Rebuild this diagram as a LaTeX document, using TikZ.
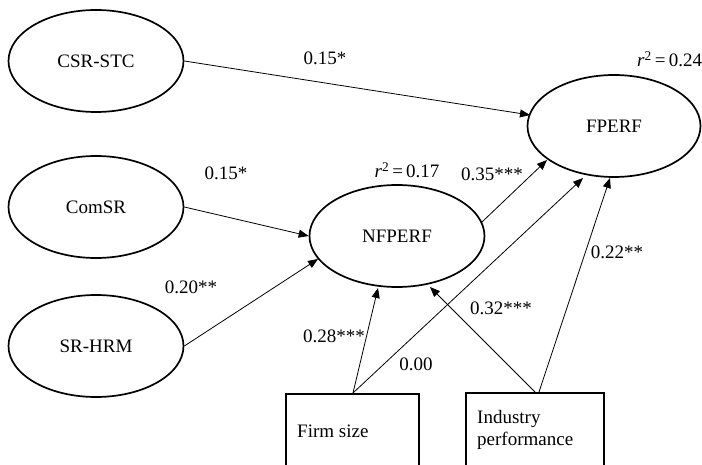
\documentclass[tikz,border=0pt]{standalone}
\usepackage{fontspec}
\setmainfont{Liberation Serif}
\usetikzlibrary{arrows.meta,calc,shapes.geometric}
\begin{document}
\begin{tikzpicture}[x=1pt,y=-1pt,
  lat/.style={draw,ellipse,line width=1.7pt,minimum width=175pt,minimum height=102pt,inner sep=0pt,font=\fontsize{19}{22}\selectfont},
  obs/.style={draw,rectangle,line width=1.6pt,minimum width=133pt,minimum height=90pt,anchor=north west,inner sep=0pt},
  lbl/.style={font=\fontsize{19}{22}\selectfont,inner sep=0pt},
  conn/.style={line width=0.8pt,-{Triangle[length=10pt,width=8pt]}}]
\useasboundingbox (0,0) rectangle (702,465);
\clip (0,0) rectangle (702,465);
\fill[white] (0,0) rectangle (702,465);
\node[lat] (csr) at (96,61) {CSR-STC};
\node[lat] (com) at (96,207) {ComSR};
\node[lat] (hrm) at (96,346) {SR-HRM};
\node[lat] (nf) at (397,236) {NFPERF};
\node[lat,minimum width=173pt] (fp) at (614,126) {FPERF};
\node[obs] (fs) at (285,393) {};
\node[obs,minimum width=138pt] (ip) at (465,392) {};
\node[lbl,anchor=west] (fst) at (297,431) {Firm size};
\node[lbl,anchor=north west,align=left] (ipt) at (477,410) {Industry\\performance};
\coordinate (fsa) at (353,393);
\coordinate (ipa) at (535,392);
\coordinate (ipb) at (539,392);
\coordinate (csrend) at (530,115);
\coordinate (hrmend) at (318,259);
\coordinate (nfa) at (482,222);
\coordinate (fpa) at (547,160);
\coordinate (nfb) at (378,288);
\coordinate (fpb) at (583,178);
\coordinate (nfc) at (430,287);
\coordinate (fpc) at (610,178);
\draw[conn] (csr.east) -- (csrend);
\draw[conn] (com.east) -- (nf.west);
\draw[conn] (hrm.east) -- (hrmend);
\draw[conn] (nfa) -- (fpa);
\draw[conn] (fsa) -- (nfb);
\draw[conn] (fsa) -- (fpb);
\draw[conn] (ipa) -- (nfc);
\draw[conn] (ipb) -- (fpc);
\node[lbl] (l1) at (325,58) {0.15*};
\node[lbl] (l2) at (226,173) {0.15*};
\node[lbl] (l3) at (191,287) {0.20**};
\node[lbl] (l4) at (492,174) {0.35***};
\node[lbl] (l5) at (334,336) {0.28***};
\node[lbl] (l6) at (416,364) {0.00};
\node[lbl] (l7) at (501,308) {0.32***};
\node[lbl] (l8) at (617,252) {0.22**};
\node[lbl] (r1) at (407,170) {\textit{r}\textsuperscript{2}\,=\,0.17};
\node[lbl,anchor=west] (r2) at (637,59) {\textit{r}\textsuperscript{2}\,=\,0.24};
\end{tikzpicture}
\end{document}
